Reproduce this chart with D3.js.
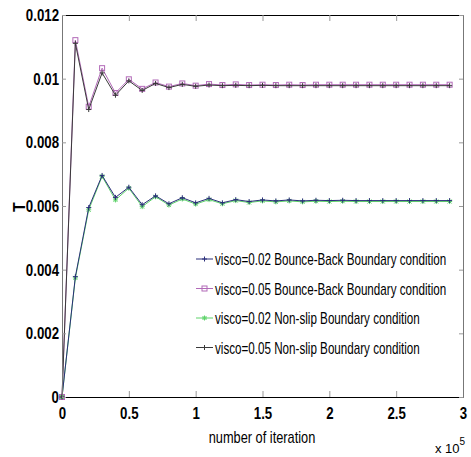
<!DOCTYPE html>
<html>
<head>
<meta charset="utf-8">
<script src="https://cdn.jsdelivr.net/npm/d3@7"></script>
<style>
  body { margin: 0; background: #fff; }
  svg text { font-family: "Liberation Sans", Arial, sans-serif; fill: #000; }
</style>
</head>
<body>
<svg id="chart" width="471" height="457"></svg>
<script>
// iteration count in units of 1e5
const iterations = [0, 0.1, 0.2, 0.3, 0.4, 0.5, 0.6, 0.7, 0.8, 0.9, 1.0, 1.1, 1.2, 1.3, 1.4,
  1.5, 1.6, 1.7, 1.8, 1.9, 2.0, 2.1, 2.2, 2.3, 2.4, 2.5, 2.6, 2.7, 2.8, 2.9];

const bb002 = [0, 0.00378, 0.00595, 0.00696, 0.00627, 0.00659, 0.00604, 0.00632, 0.00607, 0.00626,
  0.0061, 0.00624, 0.0061, 0.0062, 0.00614, 0.00619, 0.00616, 0.00619, 0.00616, 0.00618,
  0.00617, 0.00618, 0.00617, 0.00617, 0.00617, 0.00617, 0.00617, 0.00617, 0.00617, 0.00617];
const bb005 = [0, 0.01121, 0.00912, 0.01033, 0.00955, 0.00998, 0.00968, 0.00988, 0.00975, 0.00985,
  0.00978, 0.00983, 0.0098, 0.00982, 0.0098, 0.00981, 0.0098, 0.00981, 0.0098, 0.00981,
  0.00981, 0.00981, 0.00981, 0.00981, 0.00981, 0.00981, 0.00981, 0.00981, 0.00981, 0.00981];
const ns002 = [0, 0.00374, 0.00588, 0.00693, 0.00619, 0.00656, 0.00598, 0.00629, 0.00603, 0.00622,
  0.00606, 0.0062, 0.00607, 0.00617, 0.00611, 0.00616, 0.00613, 0.00616, 0.00613, 0.00615,
  0.00614, 0.00615, 0.00614, 0.00614, 0.00614, 0.00614, 0.00614, 0.00614, 0.00614, 0.00614];
const ns005 = [0, 0.01111, 0.00903, 0.01018, 0.00948, 0.00993, 0.00963, 0.00985, 0.00972, 0.00982,
  0.00976, 0.0098, 0.00978, 0.00979, 0.00978, 0.00979, 0.00978, 0.00978, 0.00978, 0.00978,
  0.00978, 0.00978, 0.00978, 0.00978, 0.00978, 0.00978, 0.00978, 0.00978, 0.00978, 0.00978];

const xTicks = [0, 0.5, 1, 1.5, 2, 2.5, 3];
const yTicks = [0, 0.002, 0.004, 0.006, 0.008, 0.01, 0.012];
const yTickLabels = ["0", "0.002", "0.004", "0.006", "0.008", "0.01", "0.012"];

const seriesNames = [
  "visco=0.02 Bounce-Back Boundary condition",
  "visco=0.05 Bounce-Back Boundary condition",
  "visco=0.02 Non-slip Boundary condition",
  "visco=0.05 Non-slip Boundary condition"
];

const margin = { top: 15, right: 8, bottom: 60, left: 62 };
const width = 471, height = 457;

const svg = d3.select("#chart");
const x = d3.scaleLinear().domain([0, 3]).range([margin.left, width - margin.right]);
const y = d3.scaleLinear().domain([0, 0.012]).range([height - margin.bottom, margin.top]);

// the reference uses a condensed face: scale each text horizontally around its anchor x
function squeeze(sel, factor) {
  sel.each(function () {
    const ax = +(this.getAttribute("x") || 0);
    d3.select(this).attr("transform", `translate(${ax * (1 - factor)},0) scale(${factor},1)`);
  });
}

const series = [
  { name: seriesNames[0], values: bb002, color: "#2b2f7a", marker: "plus" },
  { name: seriesNames[1], values: bb005, color: "#b26ab8", marker: "square" },
  { name: seriesNames[2], values: ns002, color: "#5ed36a", marker: "star" },
  { name: seriesNames[3], values: ns005, color: "#3a3a3a", marker: "plus" }
];

function drawMarker(g, type, cx, cy, color) {
  if (type === "square") {
    g.append("rect").attr("x", cx - 2.5).attr("y", cy - 2.5).attr("width", 5).attr("height", 5)
      .attr("fill", "none").attr("stroke", color).attr("stroke-width", 1);
  } else if (type === "plus") {
    g.append("path").attr("d", `M${cx - 2.5},${cy}H${cx + 2.5}M${cx},${cy - 2.5}V${cy + 2.5}`)
      .attr("stroke", color).attr("stroke-width", 1);
  } else if (type === "star") {
    g.append("path").attr("d", `M${cx - 2.5},${cy}H${cx + 2.5}M${cx},${cy - 2.5}V${cy + 2.5}` +
      `M${cx - 2},${cy - 2}L${cx + 2},${cy + 2}M${cx - 2},${cy + 2}L${cx + 2},${cy - 2}`)
      .attr("stroke", color).attr("stroke-width", 1);
  }
}

const line = d3.line().x(d => x(d[0])).y(d => y(d[1]));

// draw order: green, blue, purple, black on top
[2, 0, 1, 3].forEach(i => {
  const s = series[i];
  const pts = iterations.map((t, k) => [t, s.values[k]]);
  const g = svg.append("g");
  g.append("path").datum(pts).attr("d", line)
    .attr("fill", "none").attr("stroke", s.color).attr("stroke-width", 1);
  pts.forEach(p => drawMarker(g, s.marker, x(p[0]), y(p[1]), s.color));
});

// axes (MATLAB box style, ticks inward)
const xAxis = d3.axisBottom(x).tickValues(xTicks).tickFormat(d3.format("")).tickSize(-6).tickSizeOuter(0).tickPadding(10);
const xTop = d3.axisTop(x).tickValues(xTicks).tickFormat("").tickSize(-6).tickSizeOuter(0);
const yAxis = d3.axisLeft(y).tickValues(yTicks).tickFormat((d, i) => yTickLabels[i]).tickSize(-4).tickSizeOuter(0).tickPadding(3);
const yRight = d3.axisRight(y).tickValues(yTicks).tickFormat("").tickSize(-4).tickSizeOuter(0);

const gx = svg.append("g").attr("transform", `translate(0,${y(0)})`).call(xAxis);
const gxt = svg.append("g").attr("transform", `translate(0,${y(0.012)})`).call(xTop);
const gy = svg.append("g").attr("transform", `translate(${x(0)},0)`).call(yAxis);
const gyr = svg.append("g").attr("transform", `translate(${x(3)},0)`).call(yRight);

[gx, gxt].forEach(g => g.select(".domain").attr("stroke", "#000"));
[gy, gyr].forEach(g => g.select(".domain").attr("stroke", "#777"));
[gx, gxt, gy, gyr].forEach(g => g.selectAll(".tick line").attr("stroke", "#999"));
[gx, gy].forEach(g => g.selectAll(".tick text")
  .style("font-size", "17px").style("font-weight", "bold").style("font-family", "'Liberation Sans', Arial, sans-serif")
  .attr("fill", "#000").call(squeeze, 0.78));

// axis labels
svg.append("text").attr("x", 262).attr("y", 443).attr("text-anchor", "middle")
  .style("font-size", "16px").text("number of iteration").call(squeeze, 0.8);
svg.append("text").attr("transform", "translate(25,207) rotate(-90)").attr("text-anchor", "middle")
  .style("font-size", "16px").style("font-weight", "bold").text("T");
const mult = svg.append("text").attr("x", 435).attr("y", 453).style("font-size", "13px");
mult.append("tspan").text("x 10");
mult.append("tspan").attr("dy", -8).style("font-size", "10px").text("5");

// legend
const legend = svg.append("g");
series.forEach((s, i) => {
  const ly = 259 + i * 29.5;
  legend.append("line").attr("x1", 196).attr("x2", 213).attr("y1", ly).attr("y2", ly)
    .attr("stroke", s.color).attr("stroke-width", 1);
  drawMarker(legend, s.marker, 204.5, ly, s.color);
  legend.append("text").attr("x", 215).attr("y", ly).attr("dy", "0.36em")
    .style("font-size", "17px").text(s.name).call(squeeze, 0.685);
});
</script>
</body>
</html>
